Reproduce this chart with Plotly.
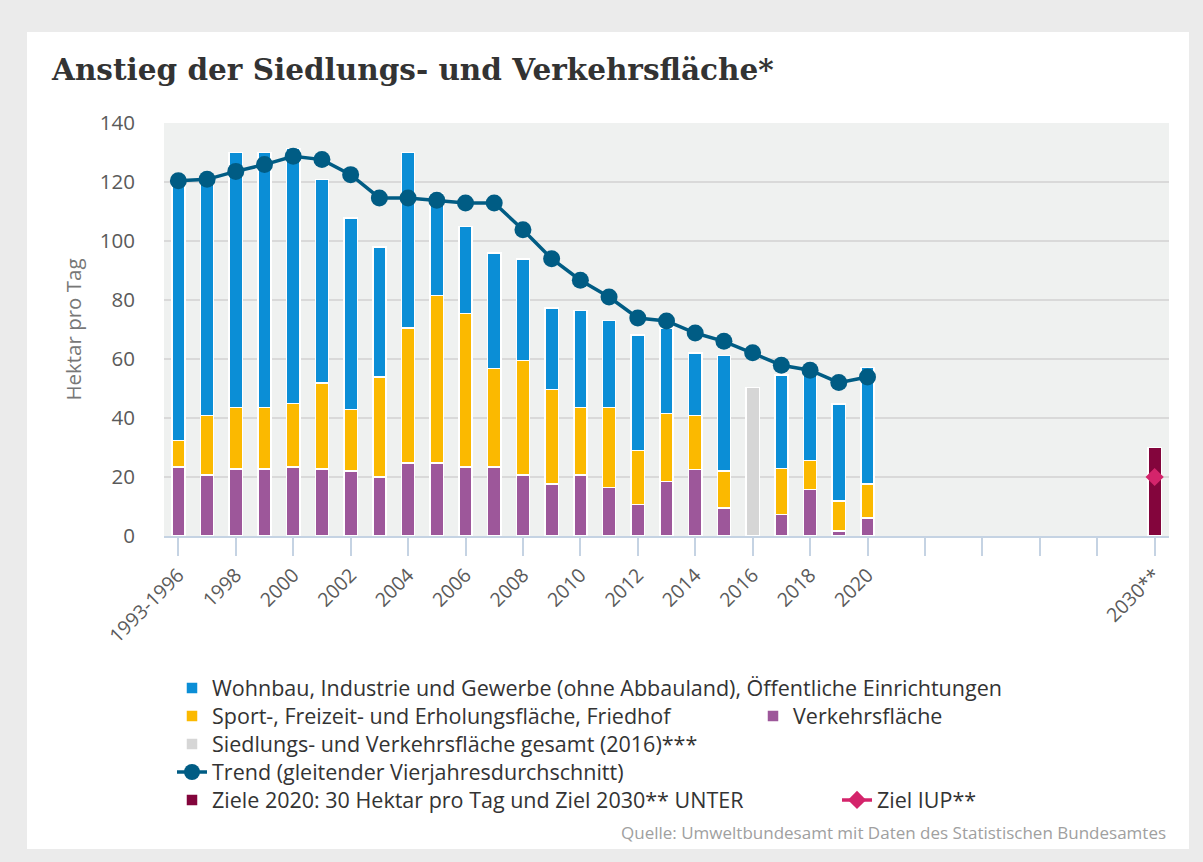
import plotly.graph_objects as go

# ---------------- data ----------------
categories = ["1993-1996", "1997", "1998", "1999", "2000", "2001", "2002", "2003",
              "2004", "2005", "2006", "2007", "2008", "2009", "2010", "2011", "2012",
              "2013", "2014", "2015", "2016", "2017", "2018", "2019", "2020", "2021",
              "2022", "2023", "2024", "2025", "2026", "2027", "2028", "2029", "2030**"]
data_years = categories[:25]

verkehr = [23.4, 20.6, 22.7, 22.7, 23.4, 22.7, 22.0, 20.0, 24.7, 24.7, 23.4, 23.4, 20.6,
           17.7, 20.6, 16.4, 10.7, 18.5, 22.6, 9.5, None, 7.3, 15.7, 1.7, 6.1]
sport = [9.0, 20.3, 20.8, 20.8, 21.5, 29.2, 20.8, 33.9, 45.8, 56.9, 52.0, 33.3, 38.9,
         32.0, 22.9, 27.1, 18.3, 23.0, 18.3, 12.5, None, 15.5, 9.9, 10.1, 11.6]
wohnbau = [87.6, 79.1, 86.5, 86.5, 86.4, 69.0, 65.0, 44.1, 59.5, 34.4, 29.6, 39.2, 34.4,
           27.6, 33.0, 29.6, 39.2, 29.0, 21.1, 39.2, None, 31.7, 29.4, 32.9, 39.4]
gesamt_2016 = [None] * 20 + [50.3] + [None] * 4
trend = [120.4, 120.9, 123.6, 125.9, 128.7, 127.6, 122.5, 114.6, 114.6, 113.8, 112.9,
         112.9, 103.8, 94.0, 86.7, 81.0, 73.9, 72.9, 68.8, 66.0, 62.1, 57.9, 56.2, 52.0, 53.9]
ziel_cat = ["2030**"]
ziel_2030 = [30]
ziel_iup = [20]

tick_vals = ["1993-1996", "1998", "2000", "2002", "2004", "2006", "2008", "2010", "2012",
             "2014", "2016", "2018", "2020", "2022", "2024", "2026", "2028", "2030**"]
tick_text = ["1993-1996", "1998", "2000", "2002", "2004", "2006", "2008", "2010", "2012",
             "2014", "2016", "2018", "2020", "", "", "", "", "2030**"]

names = {
    "wohnbau": "Wohnbau, Industrie und Gewerbe (ohne Abbauland), Öffentliche Einrichtungen",
    "sport": "Sport-, Freizeit- und Erholungsfläche, Friedhof",
    "verkehr": "Verkehrsfläche",
    "gesamt": "Siedlungs- und Verkehrsfläche gesamt (2016)***",
    "trend": "Trend (gleitender Vierjahresdurchschnitt)",
    "ziel": "Ziele 2020: 30 Hektar pro Tag und Ziel 2030** UNTER",
    "iup": "Ziel IUP**",
}

# ---------------- styling ----------------
W, H = 1203, 862
ML, MR, MT, MB = 164, 34, 123, 326
PW, PH = W - ML - MR, H - MT - MB

C_BLUE = "#0b8ed6"
C_YELLOW = "#fbb900"
C_PURPLE = "#9d579a"
C_GRAY = "#d6d6d6"
C_TREND = "#005c84"
C_ZIEL = "#83053c"
C_IUP = "#d4246b"
FONT = "Open Sans"

def px_x(X):
    return (X - ML) / PW

def px_y(Y):
    return (H - MB - Y) / PH

bar_kw = dict(width=0.46, marker_line_color="white", marker_line_width=1.5)

fig = go.Figure()
fig.add_trace(go.Bar(x=data_years, y=verkehr, name=names["verkehr"],
                     marker_color=C_PURPLE, legend="legend3", **bar_kw))
fig.add_trace(go.Bar(x=data_years, y=sport, name=names["sport"],
                     marker_color=C_YELLOW, legend="legend2", **bar_kw))
fig.add_trace(go.Bar(x=data_years, y=wohnbau, name=names["wohnbau"],
                     marker_color=C_BLUE, legend="legend", **bar_kw))
fig.add_trace(go.Bar(x=data_years, y=gesamt_2016, name=names["gesamt"],
                     marker_color=C_GRAY, legend="legend4", **bar_kw))
fig.add_trace(go.Bar(x=ziel_cat, y=ziel_2030, name=names["ziel"],
                     marker_color=C_ZIEL, legend="legend6", **bar_kw))
fig.add_trace(go.Scatter(x=data_years, y=trend, name=names["trend"], mode="lines+markers",
                         line=dict(color=C_TREND, width=3.5),
                         marker=dict(color=C_TREND, size=17), legend="legend5"))
fig.add_trace(go.Scatter(x=ziel_cat, y=ziel_iup, name=names["iup"], mode="lines+markers",
                         line=dict(color=C_IUP, width=3.5),
                         marker=dict(color=C_IUP, size=14, symbol="diamond"),
                         legend="legend7"))

leg_font = dict(family=FONT, size=21.5, color="#333333")

def leg(x_px, y_px):
    return dict(x=x_px / W, y=1 - y_px / H, xref="container", yref="container",
                xanchor="left", yanchor="middle", orientation="h",
                bgcolor="rgba(0,0,0,0)", font=leg_font, itemclick=False,
                itemdoubleclick=False)

fig.update_layout(
    width=W, height=H,
    margin=dict(l=ML, r=MR, t=MT, b=MB, pad=0),
    paper_bgcolor="#ebebeb",
    plot_bgcolor="#eff1f0",
    barmode="stack",
    font=dict(family=FONT, color="#555555"),
    title=dict(text="<b>Anstieg der Siedlungs- und Verkehrsfläche*</b>",
               x=52 / W, y=1 - 70 / H, xref="container", yref="container",
               xanchor="left", yanchor="middle",
               font=dict(family="DejaVu Serif", size=29.5, color="#333333")),
    xaxis=dict(type="category", categoryorder="array", categoryarray=categories,
               range=[-0.5, 34.5], tickmode="array", tickvals=tick_vals,
               ticktext=tick_text, tickangle=-45, ticks="outside", ticklen=18,
               tickwidth=2, tickcolor="#c5d3e3", showline=True, linecolor="#c5d3e3",
               linewidth=2, showgrid=False,
               tickfont=dict(family=FONT, size=19.5, color="#5a5a5a")),
    yaxis=dict(range=[0, 140], dtick=20, gridcolor="#d9d9d9", gridwidth=2,
               zeroline=False, showline=False, ticks="", ticklabelstandoff=28,
               tickfont=dict(family=FONT, size=20.5, color="#5a5a5a"),
               title=dict(text="Hektar pro Tag", standoff=12,
                          font=dict(family=FONT, size=20.5, color="#777777"))),
    legend=leg(172, 688),
    legend2=leg(172, 716),
    legend3=leg(753, 716),
    legend4=leg(172, 744),
    legend5=leg(172, 772),
    legend6=leg(172, 800),
    legend7=leg(837, 800),
    showlegend=True,
    shapes=[
        dict(type="rect", xref="paper", yref="paper", layer="below",
             x0=px_x(27), x1=px_x(1189), y0=px_y(849), y1=px_y(32),
             fillcolor="white", line_width=0),
        dict(type="rect", xref="x domain", yref="y domain", layer="below",
             x0=0, x1=1, y0=0, y1=1, fillcolor="#eff1f0", line_width=0),
    ],
    annotations=[
        dict(text="Quelle: Umweltbundesamt mit Daten des Statistischen Bundesamtes",
             xref="paper", yref="paper", x=px_x(1168), y=px_y(832),
             xanchor="right", yanchor="middle", showarrow=False,
             font=dict(family=FONT, size=17, color="#a0a0a0")),
    ],
)

fig.write_html("out.html", config={"displayModeBar": False},
               post_script="document.body.style.margin='0';document.body.style.overflow='hidden';")
